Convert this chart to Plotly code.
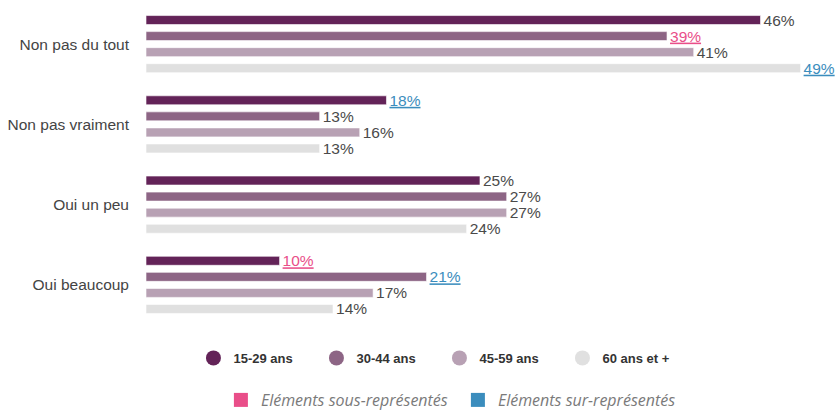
import plotly.graph_objects as go

categories = ["Non pas du tout", "Non pas vraiment", "Oui un peu", "Oui beaucoup"]
series_names = ["15-29 ans", "30-44 ans", "45-59 ans", "60 ans et +"]
values = {
    "15-29 ans": [46, 18, 25, 10],
    "30-44 ans": [39, 13, 27, 21],
    "45-59 ans": [41, 16, 27, 17],
    "60 ans et +": [49, 13, 24, 14],
}
# representation flags: "" normal, "sous" under-represented, "sur" over-represented
flags = {
    "15-29 ans": ["", "sur", "", "sous"],
    "30-44 ans": ["sous", "", "", "sur"],
    "45-59 ans": ["", "", "", ""],
    "60 ans et +": ["sur", "", "", ""],
}
colors = ["#632358", "#8d6585", "#b8a1b4", "#e0e0e0"]
flag_colors = {"": "#4a4a4a", "sous": "#e94e89", "sur": "#3b8dbd"}
flag_names = ["Eléments sous-représentés", "Eléments sur-représentés"]

fig = go.Figure()
for name, col in zip(series_names, colors):
    vals = values[name]
    fl = flags[name]
    texts = [(f"<u>{v}%</u>" if f else f"{v}%") for v, f in zip(vals, fl)]
    fig.add_trace(go.Bar(
        y=categories, x=vals, orientation="h", name=name,
        marker=dict(color=col, line=dict(color="rgba(255,255,255,0.6)", width=1)),
        text=texts, textposition="outside", cliponaxis=False, constraintext="none",
        textfont=dict(color=[flag_colors[f] for f in fl], size=15.5,
                      family="Liberation Sans, Arial, sans-serif"),
        showlegend=False, hoverinfo="skip",
    ))

# legend entries (circles)
for name, col in zip(series_names, colors):
    fig.add_trace(go.Scatter(
        x=[None], y=[None], mode="markers", name=name,
        marker=dict(color=col, size=15, symbol="circle"),
        legend="legend", showlegend=True,
    ))
# representation legend (squares)
for nm, key in zip(flag_names, ["sous", "sur"]):
    fig.add_trace(go.Scatter(
        x=[None], y=[None], mode="markers", name=nm,
        marker=dict(color=flag_colors[key], size=14, symbol="square"),
        legend="legend2", showlegend=True,
    ))

fig.update_layout(
    width=835, height=410,
    margin=dict(l=146, r=5, t=4, b=85),
    paper_bgcolor="white", plot_bgcolor="white",
    barmode="group", bargap=0.2, bargroupgap=0.44,
    font=dict(family="Liberation Sans, Arial, sans-serif", color="#444444", size=14),
    xaxis=dict(range=[0, 51.2], visible=False, fixedrange=True, automargin=False),
    yaxis=dict(autorange="reversed", showgrid=False, zeroline=False, showline=False,
               ticks="", ticklabelstandoff=16, automargin=False, fixedrange=True,
               tickfont=dict(size=15.5, color="#444444")),
    legend=dict(orientation="h", x=0.429, xanchor="center",
                yref="container", y=0.127, yanchor="middle",
                font=dict(size=13, color="#333333", family="Liberation Sans, Arial, sans-serif",
                          weight="bold"),
                entrywidth=78, entrywidthmode="pixels", bgcolor="rgba(0,0,0,0)"),
    legend2=dict(orientation="h", x=0.456, xanchor="center",
                 yref="container", y=0.0244, yanchor="middle",
                 font=dict(size=16, color="#7a7a7a", family="Open Sans, sans-serif",
                           style="italic"),
                 entrywidth=192, entrywidthmode="pixels",
                 bgcolor="rgba(0,0,0,0)"),
)

fig.write_html("out.html", config={"displayModeBar": False},
               post_script="document.body.style.margin='0';")
